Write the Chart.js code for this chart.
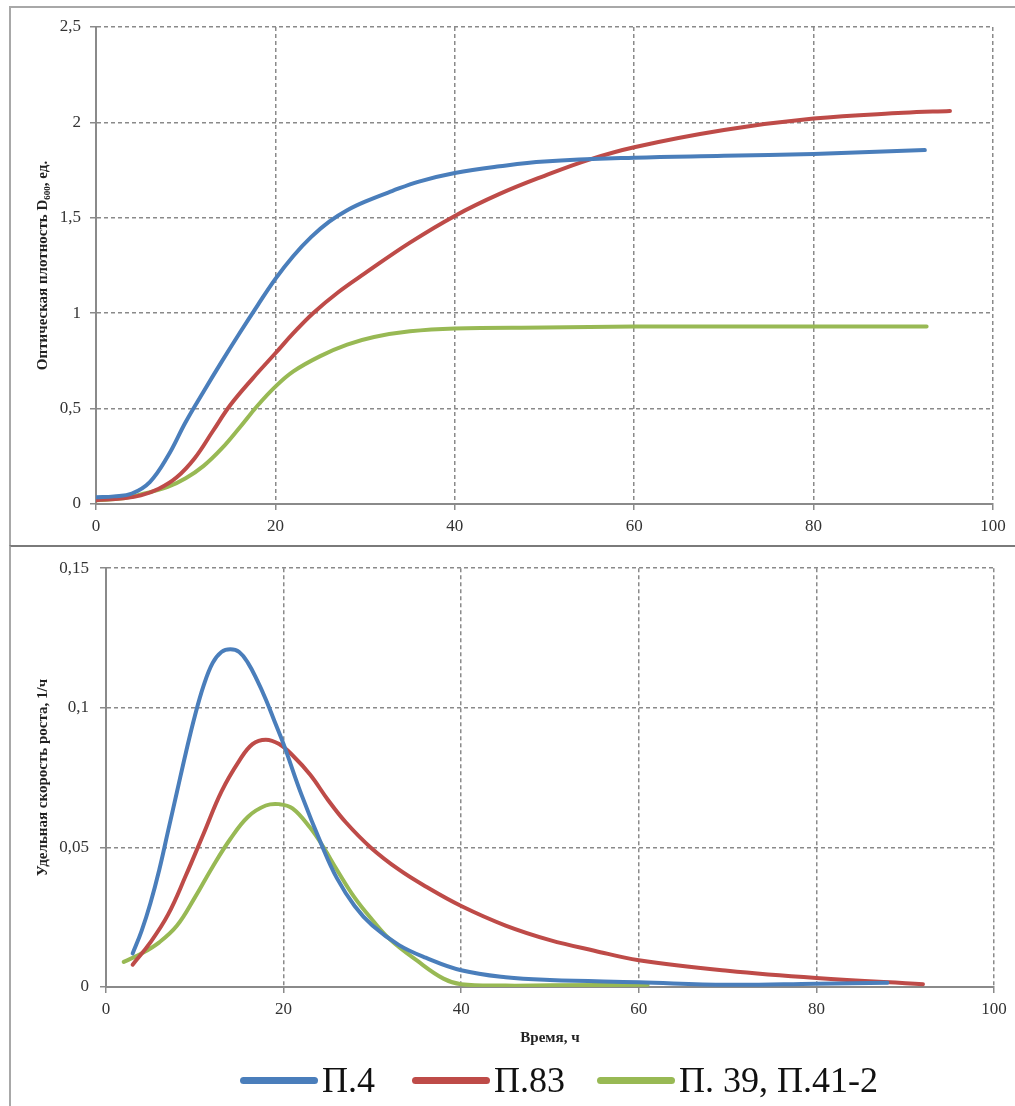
<!DOCTYPE html>
<html>
<head>
<meta charset="utf-8">
<script src="https://cdn.jsdelivr.net/npm/chart.js@4.4.0/dist/chart.umd.min.js"></script>
<style>
  html, body { margin:0; padding:0; background:#fff; }
  body { width:1015px; height:1106px; position:relative; overflow:hidden; font-family:'Liberation Serif','Times New Roman',serif; }
  .frame1 { position:absolute; left:9px; top:6px; width:1010px; height:539px; border-left:2px solid #a8a8a8; border-top:2px solid #a8a8a8; }
  .frame2 { position:absolute; left:9px; top:545px; width:1010px; height:600px; border-left:2px solid #a8a8a8; border-top:2px solid #7a7a7a; }
  canvas { position:absolute; left:10px; }
  #c1 { top:7px; }
  #c2 { top:547px; }
  .leg { position:absolute; top:1058px; height:44px; display:flex; align-items:center; white-space:nowrap; }
  .sw { width:78px; height:7px; border-radius:4px; margin-right:4px; }
  .lt { font-size:36px; color:#111; line-height:44px; }
</style>
</head>
<body>
<div class="frame1"></div>
<div class="frame2"></div>
<canvas id="c1" width="1005" height="538"></canvas>
<canvas id="c2" width="1005" height="559"></canvas>
<div class="leg" style="left:240px"><div class="sw" style="background:#4a7ebb"></div><span class="lt">П.4</span></div>
<div class="leg" style="left:412px"><div class="sw" style="background:#be4b48"></div><span class="lt">П.83</span></div>
<div class="leg" style="left:597px"><div class="sw" style="background:#98b954"></div><span class="lt">П. 39, П.41-2</span></div>
<script>
// ---- Data ----
const seriesNames = ['П.4', 'П.83', 'П. 39, П.41-2'];
const xTickLabels = ['0', '20', '40', '60', '80', '100'];

// Top chart: optical density D600
const odTopYTicks = ['0', '0,5', '1', '1,5', '2', '2,5'];
const odBlueT = [0, 2, 4, 6, 8, 10, 12, 14, 16, 18, 20, 22, 24, 26, 28, 30, 33, 36, 40, 45, 50, 60, 70, 80, 92.4];
const odBlueV = [0.035, 0.04, 0.055, 0.115, 0.25, 0.43, 0.59, 0.745, 0.895, 1.04, 1.18, 1.3, 1.4, 1.48, 1.54, 1.585, 1.64, 1.69, 1.735, 1.77, 1.795, 1.815, 1.825, 1.835, 1.855];
const odRedT = [0, 3, 5, 7, 9, 11, 13, 15, 17.5, 20, 22, 24.2, 27, 30, 35, 40, 45, 50, 55, 60, 70, 80, 90, 95.2];
const odRedV = [0.02, 0.03, 0.045, 0.08, 0.14, 0.24, 0.38, 0.52, 0.66, 0.79, 0.895, 1.0, 1.11, 1.21, 1.37, 1.51, 1.625, 1.72, 1.805, 1.87, 1.96, 2.02, 2.05, 2.06];
const odGreenT = [0, 3, 5, 8, 10, 12, 14, 16, 18, 20, 22, 25, 28, 31, 35, 40, 50, 60, 75, 92.6];
const odGreenV = [0.02, 0.03, 0.05, 0.09, 0.135, 0.2, 0.29, 0.4, 0.515, 0.615, 0.695, 0.775, 0.835, 0.875, 0.905, 0.92, 0.925, 0.93, 0.93, 0.93];

// Bottom chart: specific growth rate, 1/h
const muYTicks = ['0', '0,05', '0,1', '0,15'];
const muBlueT = [3, 4, 5, 6, 7, 8, 9, 10, 11, 12, 13, 14, 15, 16, 17, 18, 19, 20, 22, 24.4, 26, 28, 30, 33, 36, 40, 45, 50, 60, 70, 80, 88];
const muBlueV = [0.012, 0.02, 0.03, 0.042, 0.056, 0.07, 0.084, 0.097, 0.108, 0.116, 0.12, 0.121, 0.12, 0.116, 0.11, 0.103, 0.095, 0.087, 0.069, 0.05, 0.039, 0.029, 0.022, 0.015, 0.0105, 0.006, 0.0035, 0.0025, 0.0017, 0.0008, 0.0012, 0.0015];
const muRedT = [3, 5, 7, 9, 11, 13, 15, 16.5, 18, 19.5, 21, 23, 25, 27, 29.8, 33, 36, 40, 45, 50, 55, 60, 70, 80, 92];
const muRedV = [0.008, 0.016, 0.026, 0.04, 0.055, 0.07, 0.081, 0.087, 0.0886, 0.087, 0.083, 0.076, 0.067, 0.059, 0.05, 0.042, 0.036, 0.029, 0.022, 0.0168, 0.013, 0.0096, 0.0058, 0.0032, 0.001];
const muGreenT = [2, 4, 6, 8, 10, 12, 14, 16, 18, 19.5, 21, 23, 24.5, 26, 28, 30, 32, 35, 38, 40, 45, 50, 61];
const muGreenV = [0.009, 0.012, 0.016, 0.022, 0.032, 0.043, 0.053, 0.061, 0.065, 0.0655, 0.064, 0.057, 0.05, 0.042, 0.032, 0.024, 0.017, 0.0095, 0.003, 0.001, 0.0005, 0.0006, 0.0008];

// ---- Styling ----
const colors = ['#4a7ebb', '#be4b48', '#98b954'];
const FONT = "'Liberation Serif','Times New Roman',serif";
const gridColor = '#8a8a8a';

function pts(t, v) { return t.map((x, i) => ({ x: x, y: v[i] })); }
function ds(label, t, v, color) {
  return {
    label: label, data: pts(t, v), showLine: true, borderColor: color, backgroundColor: color,
    borderWidth: 4, pointRadius: 0, pointHoverRadius: 0, tension: 0.4,
    borderCapStyle: 'round', borderJoinStyle: 'round', fill: false
  };
}

function makeChart(id, datasets, yMax, yStep, yLabels, opts) {
  return new Chart(document.getElementById(id), {
    type: 'scatter',
    data: { datasets: datasets },
    options: {
      responsive: false, animation: false, events: [],
      layout: { padding: opts.padding },
      plugins: { legend: { display: false }, tooltip: { enabled: false } },
      scales: {
        x: {
          type: 'linear', min: 0, max: 100,
          ticks: { stepSize: 20, color: '#333', font: { family: FONT, size: 17 }, padding: 6,
                   callback: (v, i) => xTickLabels[i] },
          grid: { color: gridColor, lineWidth: 1.5, tickLength: 6, tickColor: gridColor, tickWidth: 1.5 },
          border: { display: true, color: gridColor, width: 2, dash: [4, 3] },
          title: opts.xTitle ? { display: true, text: opts.xTitle, color: '#222',
                   font: { family: FONT, size: 15, weight: 'bold' }, padding: { top: 0, bottom: 0 } } : { display: false },
          afterFit: s => { s.height = opts.xHeight; }
        },
        y: {
          type: 'linear', min: 0, max: yMax,
          ticks: { stepSize: yStep, color: '#333', font: { family: FONT, size: 17 }, padding: opts.yPad,
                   callback: (v, i) => yLabels[i] },
          grid: { color: gridColor, lineWidth: 1.5, tickLength: 6, tickColor: gridColor, tickWidth: 1.5 },
          border: { display: true, color: gridColor, width: 2, dash: [4, 3] },
          title: { display: true, text: opts.yTitle, color: '#222',
                   font: { family: FONT, size: 15, weight: 'bold' }, padding: { top: 24, bottom: 0 } },
          afterFit: s => { s.width = opts.yWidth; }
        }
      }
    }
  });
}

makeChart('c1', [
  ds(seriesNames[0], odBlueT, odBlueV, colors[0]),
  ds(seriesNames[1], odRedT, odRedV, colors[1]),
  ds(seriesNames[2], odGreenT, odGreenV, colors[2])
], 2.5, 0.5, odTopYTicks, {
  padding: { top: 20, right: 22, left: 0, bottom: 0 },
  xHeight: 41, yWidth: 86, yPad: 9,
  yTitle: 'Оптическая плотность D₆₀₀, ед.'
});

makeChart('c2', [
  ds(seriesNames[0], muBlueT, muBlueV, colors[0]),
  ds(seriesNames[1], muRedT, muRedV, colors[1]),
  ds(seriesNames[2], muGreenT, muGreenV, colors[2])
], 0.15, 0.05, muYTicks, {
  padding: { top: 21, right: 21, left: 0, bottom: 59 },
  xHeight: 60, yWidth: 96, yPad: 11,
  yTitle: 'Удельная скорость роста, 1/ч', xTitle: 'Время, ч'
});
</script>
</body>
</html>
